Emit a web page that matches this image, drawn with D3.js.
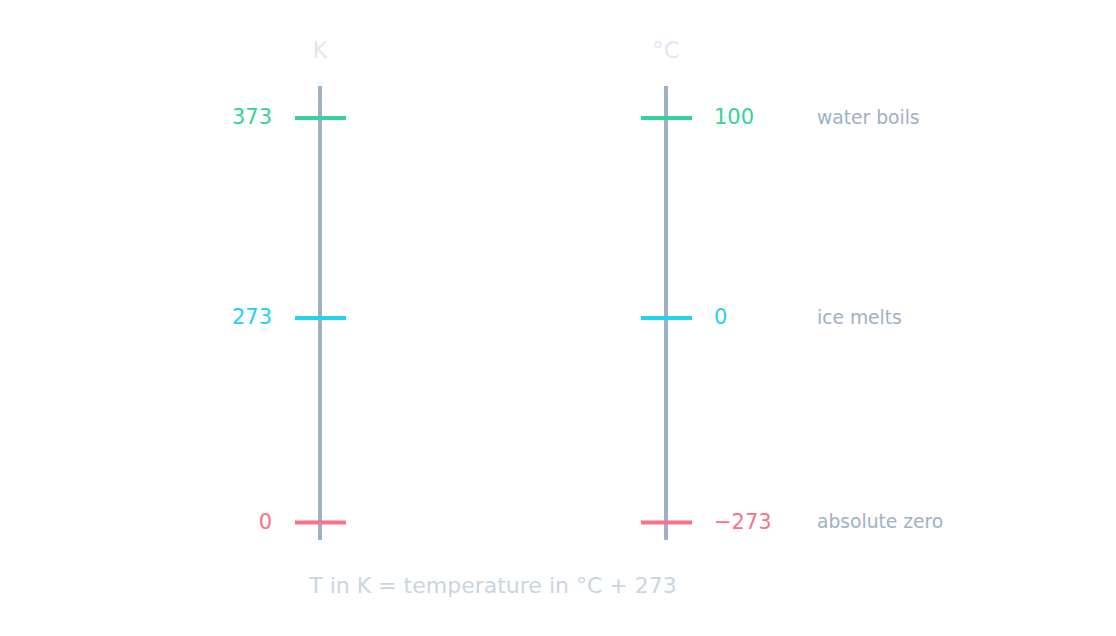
<!DOCTYPE html>
<html lang="en">
<head>
  <meta charset="UTF-8">
  <title>Kelvin vs Celsius</title>
  <script src="https://d3js.org/d3.v7.min.js"></script>
  <style>
    body { margin: 0; background: #fff; font-family: "DejaVu Sans", sans-serif; }
  </style>
</head>
<body>
  <svg id="chart" width="1116" height="636"></svg>
  <script>
    // data
    const kelvinValues = [373, 273, 0];
    const celsiusLabels = ["100", "0", "\u2212273"];
    const eventNames = ["water boils", "ice melts", "absolute zero"];
    const markColors = ["#34d399", "#22d3ee", "#fb7185"];
    const scaleTitles = ["K", "\u00b0C"];

    const svg = d3.select("#chart");

    // piecewise position scale (not to scale between fixed points)
    const y = d3.scaleLinear()
      .domain([0, 273, 373])
      .range([522.5, 318, 118]);

    const x = d3.scaleOrdinal().domain(scaleTitles).range([320, 666]);

    // vertical bars
    scaleTitles.forEach(t => {
      svg.append("line")
        .attr("x1", x(t)).attr("x2", x(t))
        .attr("y1", 86).attr("y2", 540)
        .attr("stroke", "#9eb0c5")
        .attr("stroke-width", 4);

      svg.append("text")
        .attr("x", x(t)).attr("y", 58)
        .attr("text-anchor", "middle")
        .attr("font-size", 23)
        .attr("fill", "#e2e8f0")
        .text(t);
    });

    const rows = kelvinValues.map((k, i) => ({
      k, c: celsiusLabels[i], name: eventNames[i], color: markColors[i]
    }));

    rows.forEach(d => {
      const yy = y(d.k);
      scaleTitles.forEach(t => {
        svg.append("line")
          .attr("x1", x(t) - 25).attr("x2", x(t) + 26)
          .attr("y1", yy).attr("y2", yy)
          .attr("stroke", d.color)
          .attr("stroke-width", 4);
      });

      svg.append("text")
        .attr("x", 272).attr("y", yy)
        .attr("dy", "0.3em")
        .attr("text-anchor", "end")
        .attr("font-size", 21)
        .attr("fill", d.color)
        .text(d.k);

      svg.append("text")
        .attr("x", 714).attr("y", yy)
        .attr("dy", "0.3em")
        .attr("font-size", 21)
        .attr("fill", d.color)
        .text(d.c);

      svg.append("text")
        .attr("x", 817).attr("y", yy)
        .attr("dy", "0.3em")
        .attr("font-size", 18.7)
        .attr("fill", "#a0b0c5")
        .text(d.name);
    });

    svg.append("text")
      .attr("x", 493).attr("y", 593)
      .attr("text-anchor", "middle")
      .attr("font-size", 22)
      .attr("fill", "#cbd5e1")
      .text("T in K = temperature in \u00b0C + 273");
  </script>
</body>
</html>
